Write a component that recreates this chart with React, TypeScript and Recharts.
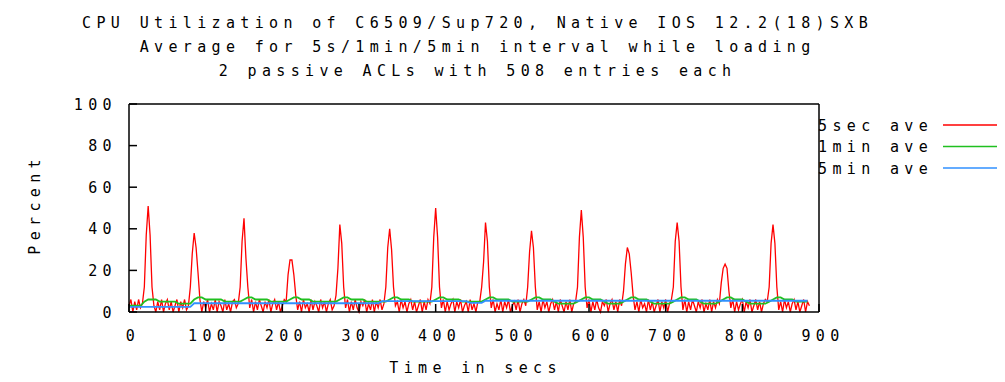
import React from 'react';
import { LineChart, Line, XAxis, YAxis } from 'recharts';

// 5sec average is sampled every 2.5 s; 1min / 5min averages every 5 s
const FAST_SECS = 2.5;
const SLOW_SECS = 5;

const cpu5sec = [
  3, 6, 0, 5, 1, 6, 2, 4, 12, 37, 51, 37, 12, 3,
  0, 5, 1, 6, 0, 4, 6, 1, 5, 0, 3, 6, 0, 5, 2, 6, 1,
  3, 12, 28, 38, 31, 19, 6,
  0, 5, 2, 6, 0, 4, 1, 6, 0, 5, 3, 0, 6, 1, 4, 0, 5, 6, 2,
  4, 12, 34, 45, 26, 12, 2,
  6, 0, 5, 1, 6, 3, 0, 5, 2, 6, 0, 4, 6, 1, 5, 0, 3, 6,
  5, 18, 25, 25, 18, 8, 1,
  5, 0, 6, 2, 4, 0, 6, 1, 5, 3, 0, 6, 2, 5, 0, 4, 6, 1,
  3, 8, 21, 42, 33, 12, 2,
  6, 0, 5, 1, 6, 2, 0, 5, 3, 6, 0, 4, 1, 6, 0, 5, 2, 6, 1,
  4, 12, 31, 40, 30, 12, 3,
  5, 0, 6, 2, 5, 0, 4, 6, 1, 5, 0, 3, 6, 0, 5, 1, 6,
  4, 12, 36, 50, 36, 12, 2,
  6, 0, 5, 1, 4, 6, 0, 5, 2, 6, 0, 3, 5, 0, 6, 1, 4, 0, 5,
  5, 12, 24, 43, 34, 12, 2,
  6, 0, 4, 1, 6, 0, 5, 2, 6, 0, 3, 5, 1, 6, 0, 4, 6,
  3, 12, 29, 39, 31, 12, 1,
  5, 0, 6, 2, 5, 0, 4, 6, 1, 5, 0, 6, 3, 0, 5, 1, 6, 0, 4,
  5, 12, 36, 49, 36, 12, 2,
  6, 0, 5, 1, 6, 2, 0, 5, 3, 6, 0, 4, 6, 1, 5, 0, 6,
  3, 10, 23, 31, 28, 19, 8, 1,
  5, 0, 6, 2, 4, 0, 6, 1, 5, 0, 3, 6, 0, 5, 2, 6, 0, 4,
  6, 12, 34, 43, 34, 12, 1,
  6, 0, 5, 1, 6, 3, 0, 5, 2, 6, 0, 4, 1, 6, 0, 5, 2, 6,
  4, 14, 21, 23, 21, 10, 2,
  6, 0, 5, 1, 4, 6, 0, 5, 2, 6, 0, 3, 6, 1, 5, 0, 4, 6,
  5, 12, 33, 42, 33, 12, 1,
  5, 0, 6, 2, 5, 0, 4, 6, 1, 5, 0, 3, 6, 0, 5, 3,
];

const cpu1min = [
  3, 3, 3, 3, 5, 6, 6, 6, 5, 5, 5, 5, 5, 4, 4, 4, 4,
  6, 7, 7, 6, 6, 6, 6, 6, 5, 5, 5, 5, 5,
  6, 7, 7, 6, 6, 6, 6, 5, 5, 5, 5, 5,
  6, 7, 7, 6, 6, 6, 5, 5, 5, 5, 5, 5, 5,
  6, 7, 7, 6, 6, 6, 6, 5, 5, 5, 5, 5, 5,
  6, 7, 7, 6, 6, 6, 5, 5, 5, 5, 5, 5,
  6, 7, 7, 6, 6, 6, 6, 5, 5, 5, 5, 5, 5,
  6, 7, 7, 6, 6, 6, 6, 5, 5, 5, 5, 5,
  6, 7, 7, 6, 6, 6, 5, 4, 4, 4, 4, 4, 5,
  6, 7, 7, 6, 6, 6, 5, 4, 4, 4, 4, 5,
  6, 7, 7, 6, 6, 6, 5, 4, 4, 4, 4, 4, 5,
  6, 7, 7, 6, 6, 6, 5, 4, 4, 4, 4, 5,
  6, 7, 7, 6, 6, 6, 5, 4, 4, 4, 4, 4, 5,
  6, 7, 7, 6, 6, 6, 5, 5, 5, 5,
];

const cpu5min = [
  2.5, 2.5, 2.5, 2.5, 2.5, 2.5, 2.5, 2.5, 2.5, 2.5, 2.5, 2.5, 2.5, 2.5, 2.5, 2.5, 2.5,
  4.2, 4.2, 4.2, 4.2, 4.2, 4.2, 4.2, 4.2, 4.2, 4.2, 4.2, 4.2, 4.2, 4.2, 4.2, 4.2, 4.2,
  4.2, 4.2, 4.2, 4.2, 4.2, 4.2, 4.2, 4.2, 4.2, 4.2, 4.2, 4.2, 4.2, 4.2, 4.2, 4.2, 4.2,
  4.2, 4.2, 4.2, 4.2, 4.2, 4.2, 4.2, 4.2, 4.2, 4.2, 4.2, 4.2, 4.2, 4.2, 4.2,
  5.2, 5.2, 5.2, 5.2, 5.2, 5.2, 5.2, 5.2, 5.2, 5.2, 5.2, 5.2, 5.2, 5.2, 5.2, 5.2, 5.2,
  5.2, 5.2, 5.2, 5.2, 5.2, 5.2,
  4.4, 4.4, 4.4, 4.4,
  5.4, 5.4, 5.4, 5.4, 5.4, 5.4, 5.4, 5.4, 5.4, 5.4, 5.4, 5.4, 5.4, 5.4, 5.4, 5.4, 5.4,
  5.4, 5.4, 5.4, 5.4, 5.4, 5.4, 5.4, 5.4, 5.4, 5.4, 5.4, 5.4, 5.4, 5.4, 5.4, 5.4, 5.4,
  5.4, 5.4, 5.4, 5.4, 5.4, 5.4, 5.4, 5.4, 5.4, 5.4, 5.4, 5.4, 5.4, 5.4, 5.4, 5.4, 5.4,
  5.4, 5.4, 5.4, 5.4, 5.4, 5.4, 5.4, 5.4, 5.4, 5.4, 5.4, 5.4, 5.4, 5.4, 5.4, 5.4, 5.4,
  5.4, 5.4, 5.4, 5.4, 5.4, 5.4, 5.4, 5.4, 5.4, 5.4, 5.4, 5.4, 5.4, 5.4, 5.4, 5.4, 5.4,
];

const xTicks = [0, 100, 200, 300, 400, 500, 600, 700, 800, 900];
const yTicks = [0, 20, 40, 60, 80, 100];

const titleLines = [
  'CPU Utilization of C6509/Sup720, Native IOS 12.2(18)SXB',
  'Average for 5s/1min/5min interval while loading',
  '2 passive ACLs with 508 entries each',
];
const xLabel = 'Time in secs';
const yLabel = 'Percent';

const series = [
  { key: 's5', name: '5sec ave', color: '#ff0000', values: cpu5sec, step: FAST_SECS, width: 1.3 },
  { key: 'm1', name: '1min ave', color: '#20c020', values: cpu1min, step: SLOW_SECS, width: 1.8 },
  { key: 'm5', name: '5min ave', color: '#3090ff', values: cpu5min, step: SLOW_SECS, width: 1.8 },
];

const seriesData = series.map((s) =>
  s.values.map((v, i) => ({ t: i * s.step, [s.key]: v }))
);

const W = 997;
const H = 374;
const FONT = '"DejaVu Sans Mono", "Liberation Mono", monospace';
const FS = 15;
const LS = 5.35;
const TICK = 8;

const textStyle: any = {
  fontFamily: FONT,
  fontSize: FS,
  letterSpacing: LS,
  fill: '#000',
};

const LeftTick = (p: any) => {
  const { x, y, payload } = p;
  return (
    <g>
      <line x1={x} y1={y} x2={x + TICK} y2={y} stroke="#000" strokeWidth={1.5} />
      <text x={x - 12} y={y + 5.5} textAnchor="end" style={textStyle}>
        {payload.value}
      </text>
    </g>
  );
};

const RightTick = (p: any) => {
  const { x, y } = p;
  return <line x1={x} y1={y} x2={x - TICK} y2={y} stroke="#000" strokeWidth={1.5} />;
};

const BottomTick = (p: any) => {
  const { x, y, payload } = p;
  return (
    <g>
      <line x1={x} y1={y} x2={x} y2={y - TICK} stroke="#000" strokeWidth={1.5} />
      <text x={x + 4} y={y + 28.5} textAnchor="middle" style={textStyle}>
        {payload.value}
      </text>
    </g>
  );
};

const TopTick = (p: any) => {
  const { x, y } = p;
  return <line x1={x} y1={y} x2={x} y2={y + TICK} stroke="#000" strokeWidth={1.5} />;
};

export default function App() {
  return (
    <LineChart
      width={W}
      height={H}
      margin={{ top: 95, right: 185, bottom: 40, left: 61 }}
    >
      <XAxis
        dataKey="t"
        type="number"
        domain={[0, 900]}
        ticks={xTicks}
        interval={0}
        tickSize={0}
        tickMargin={0}
        height={30}
        allowDuplicatedCategory={false}
        axisLine={{ stroke: '#000', strokeWidth: 1.5 }}
        tickLine={false}
        tick={(p: any) => <BottomTick {...p} />}
      />
      <XAxis
        xAxisId="top"
        orientation="top"
        dataKey="t"
        type="number"
        domain={[0, 900]}
        ticks={xTicks}
        interval={0}
        tickSize={0}
        tickMargin={0}
        height={1}
        axisLine={{ stroke: '#000', strokeWidth: 1.5 }}
        tickLine={false}
        tick={(p: any) => <TopTick {...p} />}
      />
      <YAxis
        type="number"
        domain={[0, 100]}
        ticks={yTicks}
        interval={0}
        tickSize={0}
        tickMargin={0}
        width={60}
        axisLine={{ stroke: '#000', strokeWidth: 1.5 }}
        tickLine={false}
        tick={(p: any) => <LeftTick {...p} />}
      />
      <YAxis
        yAxisId="right"
        orientation="right"
        type="number"
        domain={[0, 100]}
        ticks={yTicks}
        interval={0}
        tickSize={0}
        tickMargin={0}
        width={1}
        axisLine={{ stroke: '#000', strokeWidth: 1.5 }}
        tickLine={false}
        tick={(p: any) => <RightTick {...p} />}
      />
      {series.map((s, i) => (
        <Line
          key={s.key}
          data={seriesData[i]}
          type="linear"
          dataKey={s.key}
          name={s.name}
          stroke={s.color}
          strokeWidth={s.width}
          dot={false}
          activeDot={false}
          isAnimationActive={false}
        />
      ))}
      {titleLines.map((line, i) => (
        <text key={'title' + i} x={469.6} y={19.5 + i * 24} textAnchor="middle" style={textStyle}>
          {line}
        </text>
      ))}
      <text x={467.6} y={364.5} textAnchor="middle" style={textStyle}>
        {xLabel}
      </text>
      <text
        x={32.5}
        y={196.4}
        textAnchor="middle"
        transform="rotate(-90 32.5 196.4)"
        style={textStyle}
      >
        {yLabel}
      </text>
      {series.map((s, i) => (
        <g key={'leg' + s.key}>
          <text x={810} y={122.5 + i * 21.5} textAnchor="start" style={textStyle}>
            {s.name}
          </text>
          <line
            x1={935}
            x2={997}
            y1={117 + i * 21.5}
            y2={117 + i * 21.5}
            stroke={s.color}
            strokeWidth={1.5}
          />
        </g>
      ))}
    </LineChart>
  );
}
